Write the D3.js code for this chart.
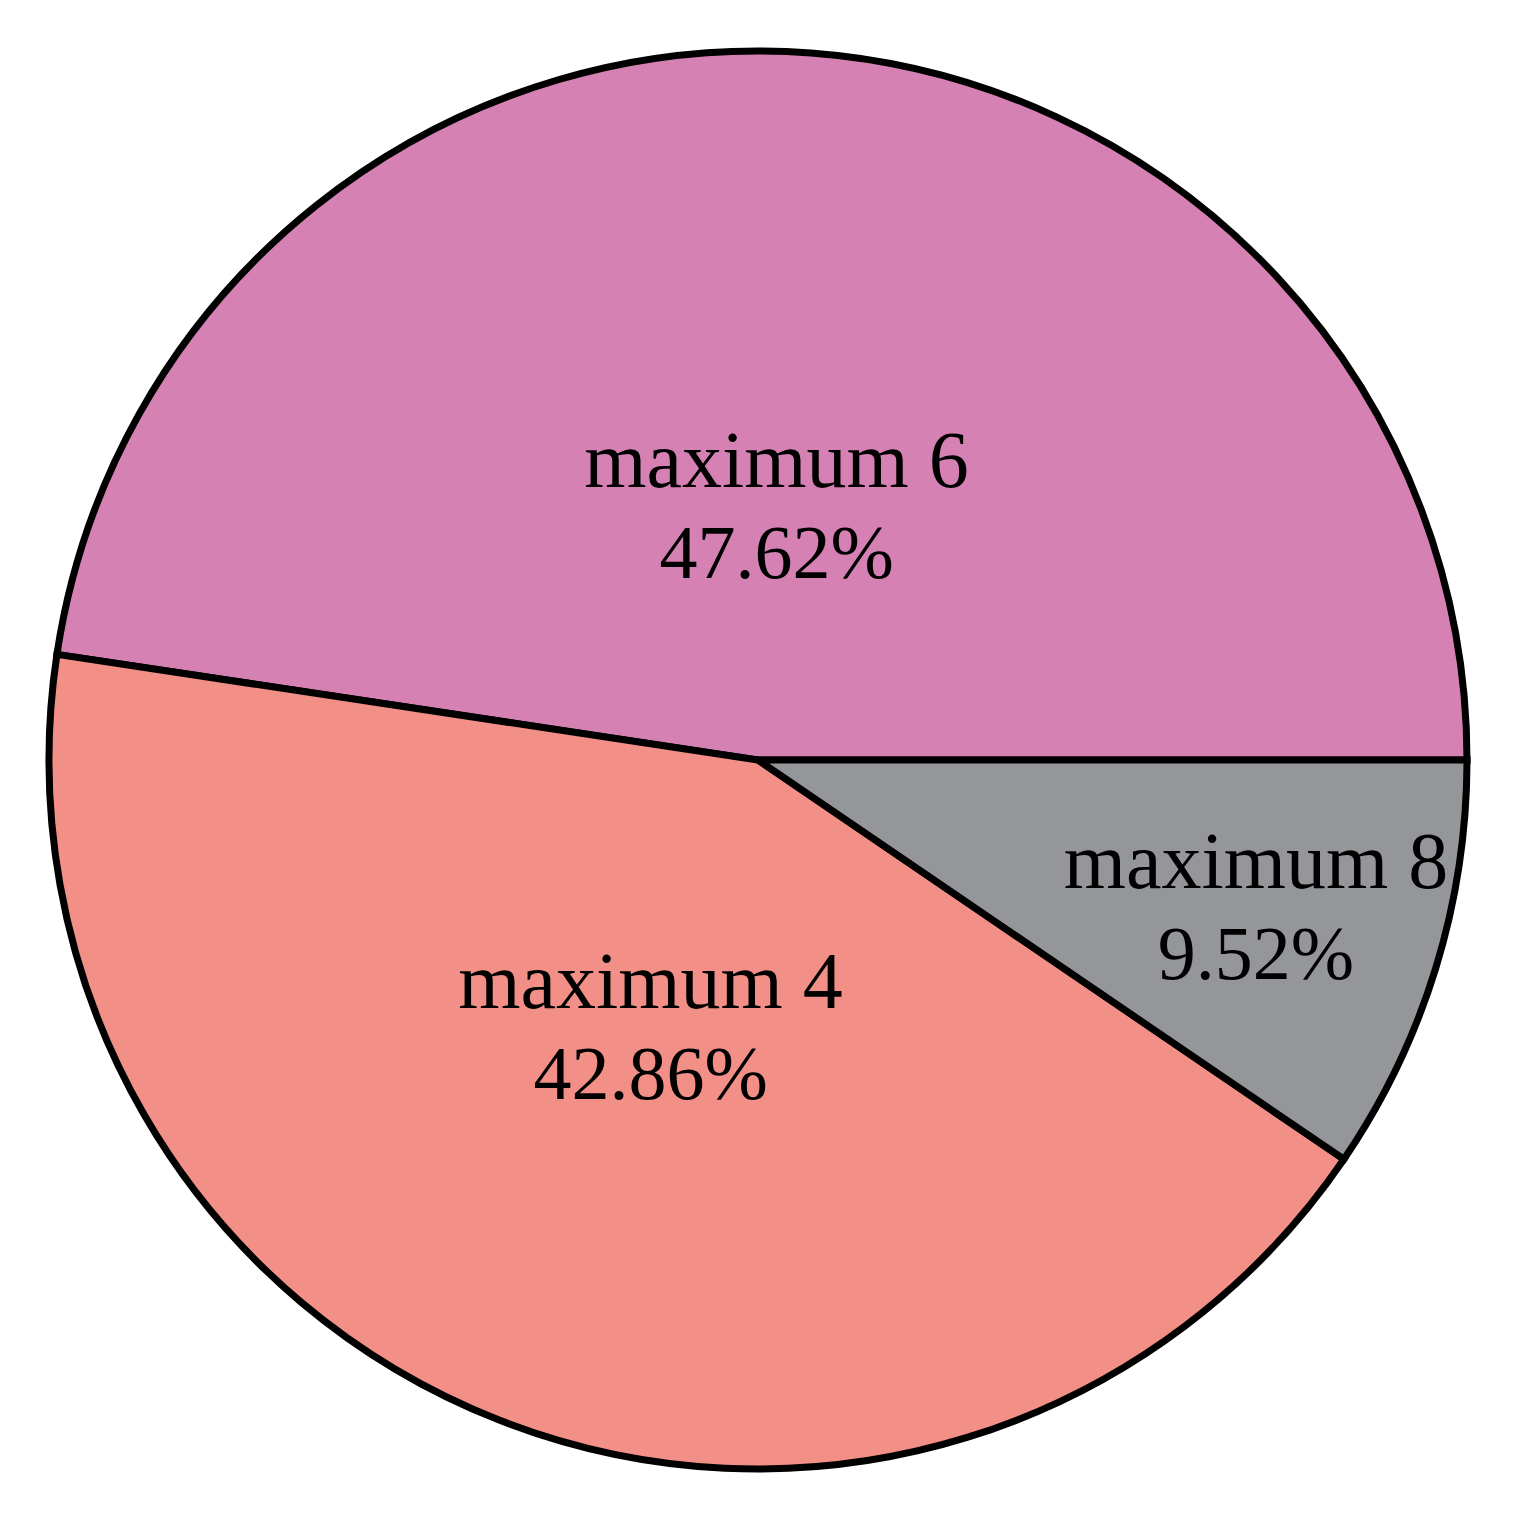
<!DOCTYPE html>
<html>
<head>
<meta charset="utf-8">
<script src="https://cdn.jsdelivr.net/npm/d3@7"></script>
<style>
    body { margin: 0; background: #fff; }
    svg text { font-family: "Liberation Serif", "DejaVu Serif", serif; }
</style>
</head>
<body>
<div class="chart"></div>
<script>
// slice data, counterclockwise from 3 o'clock
const labels = ["maximum 6", "maximum 4", "maximum 8"];
const values = [47.62, 42.86, 9.52];
const colors = ["#d681b3", "#f28f86", "#95969a"];

// how far out each label sits, as a share of the radius
const labelDist = [0.35, 0.415, 0.735];

let width = 1516,
    height = 1528,
    cx = 758,
    cy = 760,
    radius = 709;

let svg = d3.select(".chart")
    .append("svg")
    .attr("width", width)
    .attr("height", height)
    .append("g")
    .attr("transform", "translate(" + cx + "," + cy + ")");

let data = labels.map((d, i) => ({label: d, value: values[i], color: colors[i], dist: labelDist[i]}));

// matplotlib-like: start at 3 o'clock and go counterclockwise
let pie = d3.pie()
    .sort(null)
    .value(d => d.value)
    .startAngle(Math.PI / 2)
    .endAngle(Math.PI / 2 - 2 * Math.PI);

let arc = d3.arc()
    .innerRadius(0)
    .outerRadius(radius);

let arcs = pie(data);

svg.selectAll("path.slice")
    .data(arcs)
    .enter()
    .append("path")
    .attr("class", "slice")
    .attr("d", arc)
    .attr("fill", d => d.data.color)
    .attr("stroke", "#000")
    .attr("stroke-width", 7)
    .attr("stroke-linejoin", "miter");

let txt = svg.selectAll("text.lbl")
    .data(arcs)
    .enter()
    .append("text")
    .attr("class", "lbl")
    .attr("text-anchor", "middle")
    .attr("font-size", 80)
    .attr("fill", "#000")
    .attr("transform", d => {
        let a = (d.startAngle + d.endAngle) / 2;
        let r = radius * d.data.dist;
        return "translate(" + (r * Math.sin(a)) + "," + (-r * Math.cos(a)) + ")";
    });

txt.append("tspan")
    .attr("x", 0)
    .attr("y", -26)
    .text(d => d.data.label);

txt.append("tspan")
    .attr("x", 0)
    .attr("y", 65)
    .attr("font-size", 76)
    .text(d => d.data.value.toFixed(2) + "%");
</script>
</body>
</html>
